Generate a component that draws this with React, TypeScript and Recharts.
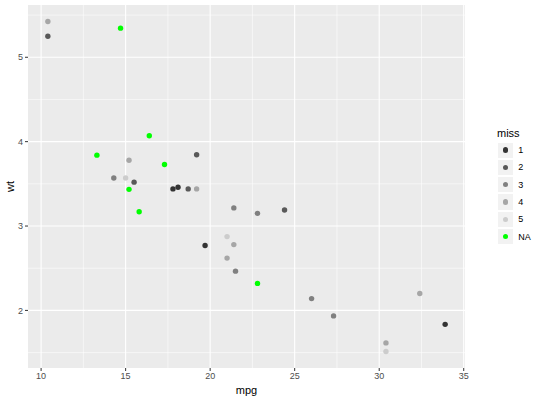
import React from "react";
import {
  ScatterChart,
  Scatter,
  XAxis,
  YAxis,
  CartesianGrid,
} from "recharts";

// mtcars: mpg vs wt, coloured by "miss"
const mpg = [
  21.0, 21.0, 22.8, 21.4, 18.7, 18.1, 14.3, 24.4, 22.8, 19.2, 17.8, 16.4, 17.3,
  15.2, 10.4, 10.4, 14.7, 32.4, 30.4, 33.9, 21.5, 15.5, 15.2, 13.3, 19.2, 27.3,
  26.0, 30.4, 15.8, 19.7, 15.0, 21.4,
];
const wt = [
  2.62, 2.875, 2.32, 3.215, 3.44, 3.46, 3.57, 3.19, 3.15, 3.44, 3.44, 4.07, 3.73,
  3.78, 5.25, 5.424, 5.345, 2.2, 1.615, 1.835, 2.465, 3.52, 3.435, 3.84, 3.845,
  1.935, 2.14, 1.513, 3.17, 2.77, 3.57, 2.78,
];
const miss = [
  "4", "5", "NA", "3", "2", "1", "3", "2", "3", "4", "1", "NA", "NA",
  "4", "2", "4", "NA", "4", "4", "1", "3", "2", "NA", "NA", "2", "3",
  "3", "5", "NA", "1", "5", "4",
];

const levels = ["1", "2", "3", "4", "5", "NA"];
const levelColors = ["#333333", "#595959", "#808080", "#A6A6A6", "#CCCCCC", "#00FF00"];

const xTicks = [10, 15, 20, 25, 30, 35];
const xMinor = [12.5, 17.5, 22.5, 27.5, 32.5];
const yTicks = [2, 3, 4, 5];
const yMinor = [1.5, 2.5, 3.5, 4.5, 5.5];

const points = mpg.map((m, i) => ({ mpg: m, wt: wt[i], miss: miss[i] }));

const FONT = "'Liberation Sans', Arial, sans-serif";

const Dot = (props: any) => (
  <circle cx={props.cx} cy={props.cy} r={2.7} fill={props.fill} />
);

export default function App() {
  return (
    <div style={{ position: "absolute", left: 0, top: 0, width: 540, height: 400, fontFamily: FONT }}>
      <ScatterChart
        width={540}
        height={400}
        margin={{ top: 5, right: 75, bottom: 0, left: 0 }}
        style={{ background: "#FFFFFF" }}
      >
        <CartesianGrid
          fill="#EBEBEB"
          stroke="#FFFFFF"
          strokeWidth={0.55}
          verticalValues={xMinor}
          horizontalValues={yMinor}
        />
        <CartesianGrid
          stroke="#FFFFFF"
          strokeWidth={1.1}
          verticalValues={xTicks}
          horizontalValues={yTicks}
        />
        <XAxis
          type="number"
          dataKey="mpg"
          domain={[9.225, 35.075]}
          ticks={xTicks}
          allowDataOverflow
          axisLine={false}
          tickSize={3}
          tickLine={{ stroke: "#333333" }}
          tick={{ fill: "#4D4D4D", fontSize: 9, fontFamily: FONT }}
          height={32}
          label={{
            value: "mpg",
            position: "insideBottom",
            offset: 6,
            fill: "#000000",
            fontSize: 11,
            fontFamily: FONT,
          }}
        />
        <YAxis
          type="number"
          dataKey="wt"
          domain={[1.3175, 5.6195]}
          ticks={yTicks}
          allowDataOverflow
          axisLine={false}
          tickSize={3}
          tickLine={{ stroke: "#333333" }}
          tick={{ fill: "#4D4D4D", fontSize: 9, fontFamily: FONT }}
          width={28}
          label={{
            value: "wt",
            angle: -90,
            position: "center",
            dx: -4,
            fill: "#000000",
            fontSize: 11,
            fontFamily: FONT,
          }}
        />
        {levels.map((lv, i) => (
          <Scatter
            key={lv}
            data={points.filter((p) => p.miss === lv)}
            fill={levelColors[i]}
            shape={Dot}
            isAnimationActive={false}
          />
        ))}
      </ScatterChart>
      <div style={{ position: "absolute", left: 497, top: 127 }}>
        <div style={{ fontSize: 11, color: "#000", height: 14.5, lineHeight: "12px" }}>miss</div>
        {levels.map((lv, i) => (
          <div key={lv} style={{ display: "flex", alignItems: "center", height: 17.3 }}>
            <div
              style={{
                width: 17.3,
                height: 17.3,
                background: "#F2F2F2",
                boxSizing: "border-box",
                border: "0.5px solid #FFFFFF",
                display: "flex",
                alignItems: "center",
                justifyContent: "center",
              }}
            >
              <div style={{ width: 5.4, height: 5.4, borderRadius: "50%", background: levelColors[i] }} />
            </div>
            <span style={{ fontSize: 9, marginLeft: 4, color: "#000" }}>{lv}</span>
          </div>
        ))}
      </div>
    </div>
  );
}
